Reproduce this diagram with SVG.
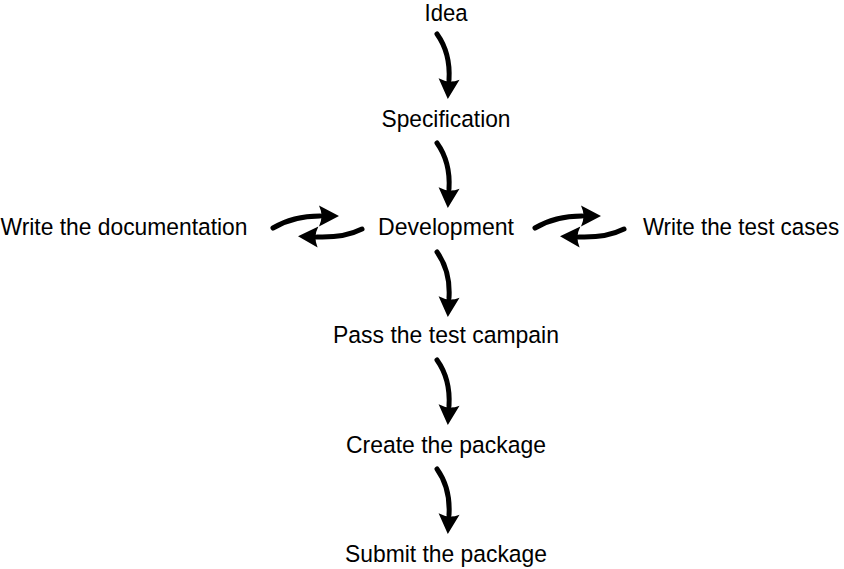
<svg xmlns="http://www.w3.org/2000/svg" width="844" height="569" viewBox="0 0 844 569">
<style>
text{font-family:"Liberation Sans",Arial,sans-serif;font-size:24.5px;fill:#000;text-anchor:middle}
.c{fill:none;stroke:#000;stroke-width:5;stroke-linecap:round;marker-end:url(#ah)}
</style>
<defs>
<marker id="ah" markerUnits="userSpaceOnUse" viewBox="-2 -12 24 24" markerWidth="24" markerHeight="24" refX="1" refY="0" orient="auto">
<path d="M0,-10.5 L20,0 L0,10.5 Q5,0 0,-10.5 Z" fill="#000"/>
</marker>
</defs>
<rect width="844" height="569" fill="#fff"/>
<g id="idea"><text x="446" y="20.5" textLength="43" lengthAdjust="spacingAndGlyphs">Idea</text></g>
<g id="spec"><text x="446" y="126.5" textLength="129" lengthAdjust="spacingAndGlyphs">Specification</text></g>
<g id="dev"><text x="446" y="234.5" textLength="136" lengthAdjust="spacingAndGlyphs">Development</text></g>
<g id="doc"><text x="124" y="234.5" textLength="247" lengthAdjust="spacingAndGlyphs">Write the documentation</text></g>
<g id="tests"><text transform="translate(741,234.5) scale(1,1.094)" x="0" y="0" style="font-size:22.4px">Write the test cases</text></g>
<g id="pass"><text x="446" y="343" textLength="226" lengthAdjust="spacingAndGlyphs">Pass the test campain</text></g>
<g id="create"><text x="446" y="452.5" textLength="200" lengthAdjust="spacingAndGlyphs">Create the package</text></g>
<g id="submit"><text x="446" y="561.5" textLength="202" lengthAdjust="spacingAndGlyphs">Submit the package</text></g>
<g id="connectors">
<path class="c" d="M437,34 C447,48 450,64 449,80"/>
<path class="c" d="M437,143 C447,157 450,173 449,189"/>
<path class="c" d="M437,252 C447,266 450,282 449,298"/>
<path class="c" d="M437,360 C447,374 450,390 449,406"/>
<path class="c" d="M437,469 C447,483 450,499 449,515"/>
<path class="c" d="M273,228 Q293,216 320,216"/>
<path class="c" d="M362,229 Q344,238 317,237"/>
<path class="c" d="M535,228 Q555,216 582,216"/>
<path class="c" d="M624,229 Q606,238 579,237"/>
</g>
</svg>
